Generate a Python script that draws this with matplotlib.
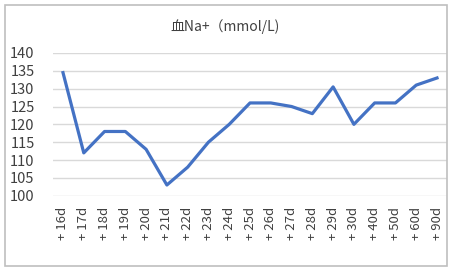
import matplotlib
matplotlib.use('Agg')
import matplotlib.pyplot as plt
from matplotlib.patches import Rectangle

plt.rcParams['font.family'] = ['Noto Sans CJK SC', 'DejaVu Sans']

# data
days = ['+ 16d', '+ 17d', '+ 18d', '+ 19d', '+ 20d', '+ 21d', '+ 22d', '+ 23d',
        '+ 24d', '+ 25d', '+ 26d', '+ 27d', '+ 28d', '+ 29d', '+ 30d', '+ 40d',
        '+ 50d', '+ 60d', '+ 90d']
na = [134.5, 112, 118, 118, 113, 103, 108, 115, 120, 126, 126, 125, 123,
      130.5, 120, 126, 126, 131, 133]
yticks = [100, 105, 110, 115, 120, 125, 130, 135, 140]

W, H = 451, 269
fig = plt.figure(figsize=(W / 100, H / 100), dpi=100)
ax = fig.add_axes([52.6 / W, 1 - 195.7 / H, (447.4 - 52.6) / W, (195.7 - 53) / H])

x = range(len(days))
ax.plot(x, na, color='#4472C4', lw=2.3, solid_joinstyle='round', zorder=3)

ax.set_xlim(-0.5, len(days) - 0.5)
ax.set_ylim(100, 140)
ax.set_yticks(yticks)
ax.set_xticks(list(x))
ax.set_xticklabels(days, rotation=90, fontsize=9.5, color='#404040')
ax.set_yticklabels([str(v) for v in yticks], fontsize=10.5, color='#404040')
ax.tick_params(length=0)
ax.tick_params(axis='y', pad=13)
ax.tick_params(axis='x', pad=8)
ax.grid(axis='y', color='#D9D9D9', lw=1)
ax.set_axisbelow(True)
for s in ax.spines.values():
    s.set_visible(False)

fig.text(225 / W, 1 - 27 / H, '血Na+（mmol/L)', ha='center', va='center',
         fontsize=10, color='#404040')

fig.patches.append(Rectangle((5 / W, 1 - 266 / H), 441.5 / W, 261.5 / H,
                             transform=fig.transFigure, fill=False,
                             edgecolor='#BFBFBF', lw=1.2))

fig.savefig('out.png', dpi=100)
